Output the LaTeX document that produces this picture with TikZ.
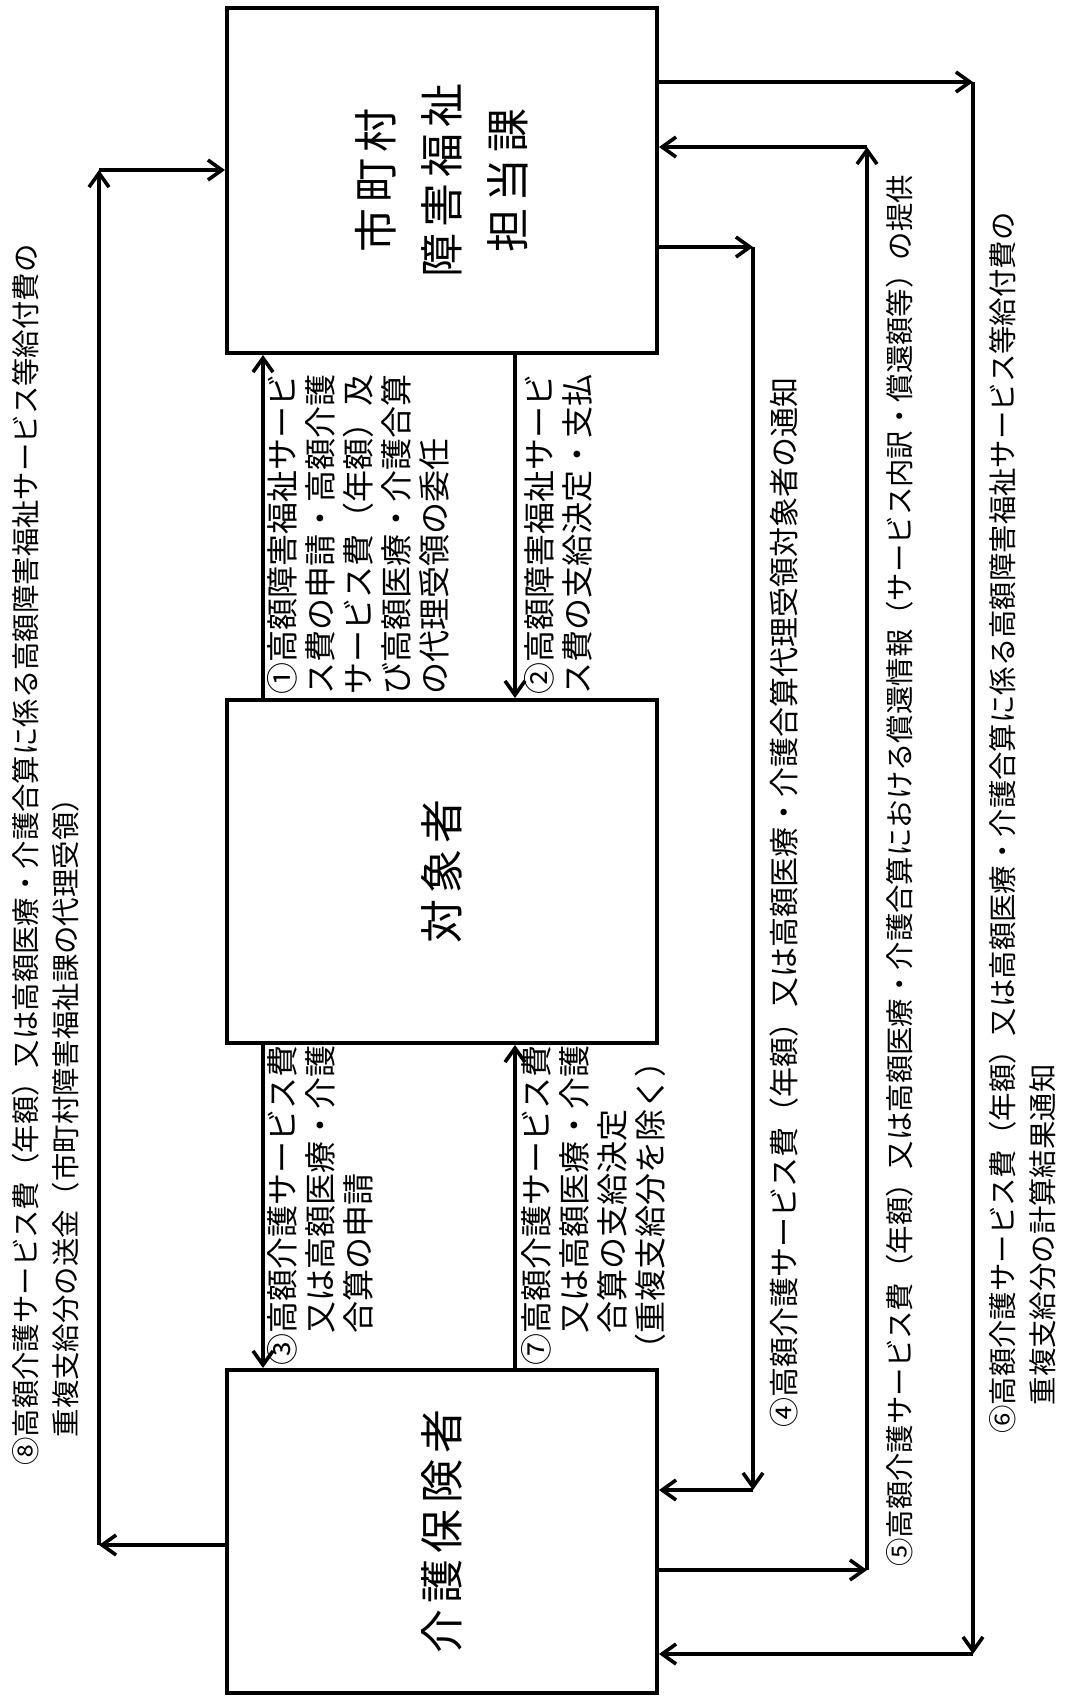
\documentclass[tikz,border=0pt]{standalone}
\usepackage{fontspec}
\usetikzlibrary{arrows.meta}
\newfontfamily\jp{Noto Sans CJK JP}
\newfontfamily\jpbig[LetterSpace=14]{Noto Sans CJK JP}
\begin{document}
\begin{tikzpicture}[x=0.5pt,y=-0.5pt,
  box/.style={draw, line width=2pt, inner sep=0pt, minimum width=215pt},
  boxtext/.style={rotate=90, align=center, inner sep=0pt, font=\jpbig\fontsize{22}{33}\selectfont},
  lab/.style={rotate=90, anchor=north west, align=left, inner sep=0pt, font=\jp\fontsize{16}{19}\selectfont},
  lablong/.style={lab, font=\jp\fontsize{14.2}{20}\selectfont},
  labmid/.style={lab, font=\jp\fontsize{15}{20}\selectfont},
  arr/.style={line width=1.8pt, -{Straight Barb[length=7pt,width=10pt]}}]
\useasboundingbox (0,0) rectangle (1066,1699);
% boxes
\node[box, minimum height=172.5pt] (top) at (442,180.5) {};
\node[box, minimum height=171.5pt] (mid) at (442,871.5) {};
\node[box, minimum height=161.5pt] (bot) at (442,1531.5) {};
\node[boxtext] (ttop) at (top.center) {市町村\\障害福祉\\担当課};
\node[boxtext] (tmid) at (mid.center) {対象者};
\node[boxtext] (tbot) at (bot.center) {介護保険者};
% coordinates
\coordinate (x1) at (263,0);
\coordinate (x2) at (515,0);
\coordinate (c4a) at (753,247);
\coordinate (c4b) at (753,1490);
\coordinate (c5a) at (867,1570);
\coordinate (c5b) at (867,147);
\coordinate (c6a) at (973,82);
\coordinate (c6b) at (973,1654);
\coordinate (c8a) at (99,1545);
\coordinate (c8b) at (99,170);
% vertical arrows between boxes
\draw[arr] (mid.north -| x1) -- (top.south -| x1);
\draw[arr] (top.south -| x2) -- (mid.north -| x2);
\draw[arr] (mid.south -| x1) -- (bot.north -| x1);
\draw[arr] (bot.north -| x2) -- (mid.south -| x2);
% (4)
\draw[arr] (top.east |- c4a) -- (c4a);
\draw[arr] (c4a) -- (c4b);
\draw[arr] (c4b) -- (bot.east |- c4b);
% (5)
\draw[arr] (bot.east |- c5a) -- (c5a);
\draw[arr] (c5a) -- (c5b);
\draw[arr] (c5b) -- (top.east |- c5b);
% (6)
\draw[arr] (top.east |- c6a) -- (c6a);
\draw[arr] (c6a) -- (c6b);
\draw[arr] (c6b) -- (bot.east |- c6b);
% (8)
\draw[arr] (bot.west |- c8a) -- (c8a);
\draw[arr] (c8a) -- (c8b);
\draw[arr] (c8b) -- (top.west |- c8b);
% labels
\node[lab] (l1) at (267,695) {①高額障害福祉サービ\\ス費の申請・高額介護\\サービス費（年額）及\\び高額医療・介護合算\\の代理受領の委任};
\node[lab] (l2) at (524,695) {②高額障害福祉サービ\\ス費の支給決定・支払};
\node[lab] (l3) at (267,1366) {③高額介護サービス費\\\hspace*{1em}又は高額医療・介護\\\hspace*{1em}合算の申請};
\node[lab] (l7) at (521,1366) {⑦高額介護サービス費\\\hspace*{1em}又は高額医療・介護\\\hspace*{1em}合算の支給決定\\（重複支給分を除く）};
\node[labmid] (l4) at (769,1428) {④高額介護サービス費（年額）又は高額医療・介護合算代理受領対象者の通知};
\node[lablong] (l5) at (886,1567) {⑤高額介護サービス費（年額）又は高額医療・介護合算における償還情報（サービス内訳・償還額等）の提供};
\node[lablong] (l6) at (989,1434) {⑥高額介護サービス費（年額）又は高額医療・介護合算に係る高額障害福祉サービス等給付費の\\\hspace*{1em}重複支給分の計算結果通知};
\node[lablong] (l8) at (12,1466) {⑧高額介護サービス費（年額）又は高額医療・介護合算に係る高額障害福祉サービス等給付費の\\\hspace*{1em}重複支給分の送金（市町村障害福祉課の代理受領）};
\end{tikzpicture}
\end{document}
